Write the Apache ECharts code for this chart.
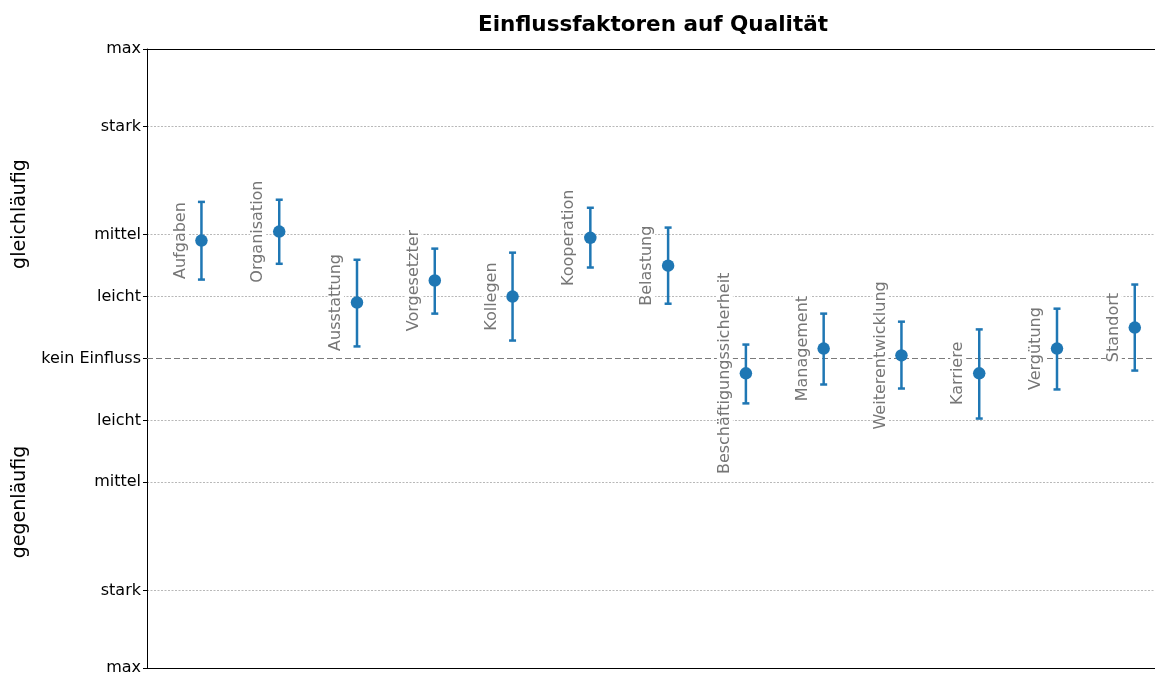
<!DOCTYPE html>
<html>
<head>
<meta charset="utf-8">
<script src="https://cdn.jsdelivr.net/npm/echarts@6/dist/echarts.min.js"></script>
<style>
  html, body { margin: 0; padding: 0; background: #fff; }
  #chart { width: 1155px; height: 676px; }
</style>
</head>
<body>
<div id="chart"></div>
<script>
// Faktoren (x-Achse, nur als Beschriftung an den Punkten)
var categories = ["Aufgaben", "Organisation", "Ausstattung", "Vorgesetzter", "Kollegen", "Kooperation",
  "Belastung", "Beschäftigungssicherheit", "Management", "Weiterentwicklung", "Karriere", "Vergütung", "Standort"];
// Mittelwerte und Fehlerbalken (untere / obere Grenze)
var means = [0.381, 0.410, 0.181, 0.252, 0.200, 0.390, 0.300, -0.048, 0.032, 0.010, -0.048, 0.032, 0.100];
var lower = [0.255, 0.306, 0.039, 0.145, 0.058, 0.294, 0.177, -0.145, -0.084, -0.097, -0.194, -0.100, -0.039];
var upper = [0.506, 0.513, 0.319, 0.355, 0.342, 0.487, 0.423, 0.045, 0.145, 0.119, 0.094, 0.161, 0.239];
// Y-Achse Skala
var tickValues = [-1, -0.75, -0.4, -0.2, 0, 0.2, 0.4, 0.75, 1];
var tickLabels = ["max", "stark", "mittel", "leicht", "kein Einfluss", "leicht", "mittel", "stark", "max"];

var blue = "#1f77b4";
var font = "DejaVu Sans";

var chart = echarts.init(document.getElementById("chart"));

var points = means.map(function (m, i) { return [i, m]; });
var bars = means.map(function (m, i) { return [i, lower[i], upper[i], m]; });

var option = {
  animation: false,
  title: {
    text: "Einflussfaktoren auf Qualität",
    left: 648,
    top: 9,
    textAlign: "center",
    textStyle: { fontFamily: font, fontSize: 21.5, fontWeight: "bold", color: "#000" }
  },
  grid: { left: 147, right: 0, top: 49, bottom: 7 },
  xAxis: [
    {
      type: "value", min: -0.7, max: 12.26, position: "bottom",
      axisLine: { show: true, onZero: false, lineStyle: { color: "#000", width: 1 } },
      axisTick: { show: false }, axisLabel: { show: false }, splitLine: { show: false }
    },
    {
      type: "value", min: -0.7, max: 12.26, position: "top",
      axisLine: { show: true, onZero: false, lineStyle: { color: "#000", width: 1 } },
      axisTick: { show: false }, axisLabel: { show: false }, splitLine: { show: false }
    }
  ],
  yAxis: {
    type: "value", min: -1, max: 1,
    axisLine: { show: true, onZero: false, lineStyle: { color: "#000", width: 1 } },
    axisTick: { show: true, length: 4, customValues: tickValues, lineStyle: { color: "#000" } },
    axisLabel: {
      customValues: tickValues,
      fontFamily: font, fontSize: 16, color: "#000", margin: 6,
      formatter: function (v) {
        for (var k = 0; k < tickValues.length; k++) {
          if (Math.abs(tickValues[k] - v) < 1e-9) return tickLabels[k];
        }
        return "";
      }
    },
    splitLine: {
      show: true,
      lineStyle: {
        color: ["#b0b0b0", "#b0b0b0", "#b0b0b0", "#b0b0b0", "rgba(0,0,0,0)", "#b0b0b0", "#b0b0b0", "#b0b0b0", "#b0b0b0"],
        type: [2, 1.5], width: 0.9
      }
    }
  },
  graphic: [
    {
      type: "text", x: 20, y: 214, rotation: Math.PI / 2,
      style: { text: "gleichläufig", font: "19px " + font, fill: "#000", align: "center", verticalAlign: "middle" }
    },
    {
      type: "text", x: 20, y: 502, rotation: Math.PI / 2,
      style: { text: "gegenläufig", font: "19px " + font, fill: "#000", align: "center", verticalAlign: "middle" }
    }
  ],
  series: [
    {
      type: "custom",
      z: 10,
      clip: false,
      data: bars,
      renderItem: function (params, api) {
        var x = api.value(0);
        var lo = api.coord([x, api.value(1)]);
        var hi = api.coord([x, api.value(2)]);
        var mid = api.coord([x, api.value(3)]);
        var cap = 3.5;
        var ls = { stroke: blue, lineWidth: 2.5 };
        return {
          type: "group",
          children: [
            { type: "line", shape: { x1: lo[0], y1: lo[1], x2: hi[0], y2: hi[1] }, style: ls },
            { type: "line", shape: { x1: lo[0] - cap, y1: lo[1], x2: lo[0] + cap, y2: lo[1] }, style: ls },
            { type: "line", shape: { x1: hi[0] - cap, y1: hi[1], x2: hi[0] + cap, y2: hi[1] }, style: ls },
            {
              type: "text", x: mid[0] - 21, y: mid[1], rotation: Math.PI / 2,
              style: {
                text: categories[params.dataIndex], font: "16px " + font, fill: "#767676",
                align: "center", verticalAlign: "middle", backgroundColor: "#fff", padding: [0, 4]
              }
            }
          ]
        };
      }
    },
    {
      type: "scatter",
      z: 11,
      data: points,
      symbolSize: 12.5,
      itemStyle: { color: blue, opacity: 1 },
      markLine: {
        z: 3,
        silent: true,
        symbol: "none",
        label: { show: false },
        lineStyle: { color: "#7a7a7a", type: [6, 3], width: 1.2 },
        data: [{ yAxis: 0 }]
      }
    }
  ]
};

chart.setOption(option);
</script>
</body>
</html>
